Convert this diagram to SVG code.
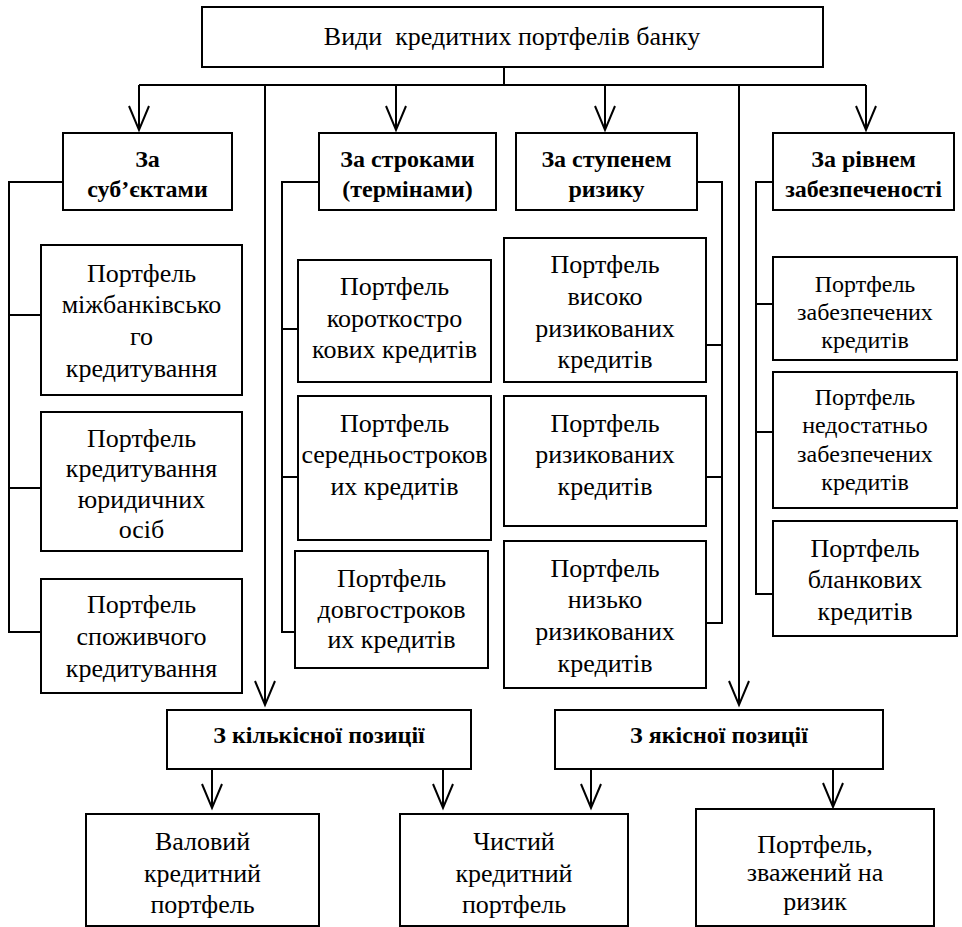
<svg xmlns="http://www.w3.org/2000/svg" width="962" height="927" viewBox="0 0 962 927" font-family="Liberation Serif, DejaVu Serif, Times New Roman, serif">
<style>
rect{fill:#fff;stroke:#000;stroke-width:2}
.c path{fill:none;stroke:#000;stroke-width:2}
text{fill:#000;text-anchor:middle;font-size:26px}
.t{font-size:26px}
.b{font-weight:bold;font-size:24px}
.s{font-size:24px}
</style>
<defs>
<marker id="ah" markerUnits="userSpaceOnUse" orient="auto" refX="0" refY="0" markerWidth="30" markerHeight="30" overflow="visible">
<path d="M-24,-10 L0,0 L-24,10" fill="none" stroke="#000" stroke-width="2"/>
</marker>
</defs>
<g class="c" id="connectors">
<path d="M504,67 V85"/>
<path d="M139,85 H866"/>
<path d="M139,85 V130" marker-end="url(#ah)"/>
<path d="M396,85 V130" marker-end="url(#ah)"/>
<path d="M605,85 V130" marker-end="url(#ah)"/>
<path d="M866,85 V130" marker-end="url(#ah)"/>
<path d="M265,85 V705" marker-end="url(#ah)"/>
<path d="M739,85 V705" marker-end="url(#ah)"/>
<path d="M63,182 H9 V632 H41 M9,315 H41 M9,488 H41"/>
<path d="M319,182 H282 V632 H295 M282,329 H298 M282,477 H298"/>
<path d="M697,182 H722 V623 H706 M722,345 H706 M722,477 H706"/>
<path d="M773,182 H756 V594 H773 M756,304 H773 M756,432 H773"/>
<path d="M212,769 V808" marker-end="url(#ah)"/>
<path d="M443,769 V808" marker-end="url(#ah)"/>
<path d="M591,769 V808" marker-end="url(#ah)"/>
<path d="M833,769 V807" marker-end="url(#ah)"/>
</g>
<g id="root"><rect x="202" y="7" width="621" height="60"/><text class="t" x="512" y="45" xml:space="preserve">Види  кредитних портфелів банку</text></g>
<g id="subj"><rect x="63" y="133" width="169" height="77"/><text class="b" x="147.5" y="167">За</text><text class="b" x="147.5" y="197">суб’єктами</text></g>
<g id="term"><rect x="319" y="133" width="177" height="77"/><text class="b" x="407.5" y="167">За строками</text><text class="b" x="407.5" y="197">(термінами)</text></g>
<g id="risk"><rect x="516" y="133" width="181" height="77"/><text class="b" x="606.5" y="167">За ступенем</text><text class="b" x="606.5" y="197">ризику</text></g>
<g id="secur"><rect x="773" y="133" width="181" height="77"/><text class="b" x="863.5" y="167">За рівнем</text><text class="b" x="863.5" y="197">забезпеченості</text></g>
<g id="s1"><rect x="41" y="245" width="201" height="150"/><text x="141.5" y="282">Портфель</text><text x="141.5" y="313">міжбанківсько</text><text x="141.5" y="345">го</text><text x="141.5" y="377">кредитування</text></g>
<g id="s2"><rect x="41" y="412" width="201" height="139"/><text x="141.5" y="447">Портфель</text><text x="141.5" y="477">кредитування</text><text x="141.5" y="508">юридичних</text><text x="141.5" y="538">осіб</text></g>
<g id="s3"><rect x="41" y="579" width="201" height="114"/><text x="141.5" y="613">Портфель</text><text x="141.5" y="645">споживчого</text><text x="141.5" y="677">кредитування</text></g>
<g id="t1"><rect x="298" y="260" width="193" height="122"/><text x="394.5" y="295">Портфель</text><text x="394.5" y="327">короткостро</text><text x="394.5" y="358">кових кредитів</text></g>
<g id="t2"><rect x="298" y="396" width="193" height="144"/><text x="394.5" y="432">Портфель</text><text x="394.5" y="463">середньостроков</text><text x="394.5" y="495">их кредитів</text></g>
<g id="t3"><rect x="295" y="551" width="193" height="117"/><text x="391.5" y="587">Портфель</text><text x="391.5" y="618">довгостроков</text><text x="391.5" y="648">их кредитів</text></g>
<g id="r1"><rect x="504" y="238" width="202" height="144"/><text x="605" y="273">Портфель</text><text x="605" y="305">високо</text><text x="605" y="337">ризикованих</text><text x="605" y="368">кредитів</text></g>
<g id="r2"><rect x="504" y="396" width="202" height="130"/><text x="605" y="432">Портфель</text><text x="605" y="463">ризикованих</text><text x="605" y="495">кредитів</text></g>
<g id="r3"><rect x="504" y="541" width="202" height="147"/><text x="605" y="577">Портфель</text><text x="605" y="608">низько</text><text x="605" y="640">ризикованих</text><text x="605" y="672">кредитів</text></g>
<g id="z1"><rect x="773" y="257" width="184" height="103"/><text class="s" x="865" y="292">Портфель</text><text class="s" x="865" y="320">забезпечених</text><text class="s" x="865" y="348">кредитів</text></g>
<g id="z2"><rect x="773" y="372" width="184" height="136"/><text class="s" x="865" y="405">Портфель</text><text class="s" x="865" y="433">недостатньо</text><text class="s" x="865" y="462">забезпечених</text><text class="s" x="865" y="490">кредитів</text></g>
<g id="z3"><rect x="773" y="521" width="184" height="115"/><text x="865" y="557">Портфель</text><text x="865" y="588">бланкових</text><text x="865" y="620">кредитів</text></g>
<g id="quant"><rect x="167" y="710" width="304" height="59"/><text class="b" x="319" y="743">З кількісної позиції</text></g>
<g id="qual"><rect x="555" y="710" width="328" height="59"/><text class="b" x="719" y="743">З якісної позиції</text></g>
<g id="gross"><rect x="86" y="814" width="233" height="112"/><text x="202.5" y="850">Валовий</text><text x="202.5" y="882">кредитний</text><text x="202.5" y="913">портфель</text></g>
<g id="net"><rect x="400" y="814" width="228" height="112"/><text x="514" y="850">Чистий</text><text x="514" y="882">кредитний</text><text x="514" y="913">портфель</text></g>
<g id="rw"><rect x="696" y="809" width="238" height="117"/><text x="815" y="853">Портфель,</text><text x="815" y="881">зважений на</text><text x="815" y="910">ризик</text></g>
</svg>
